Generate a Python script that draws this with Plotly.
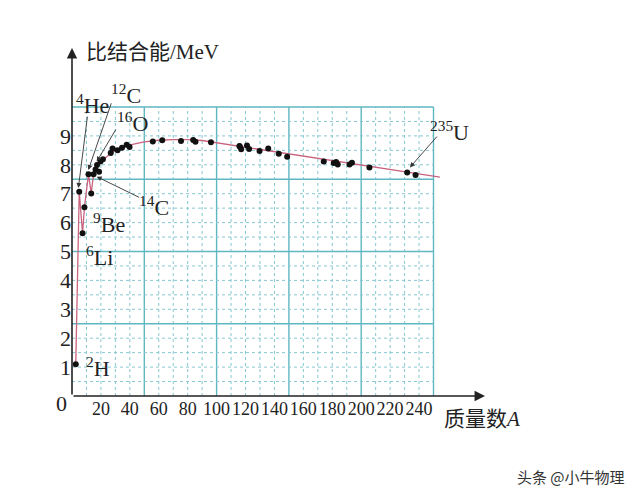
import plotly.graph_objects as go

# ---- data ----
nuclide_A = [2.6, 5.0, 7.3, 8.6, 11.4, 13.3, 14.9, 16.3, 18.7, 17.3, 19.7, 21.4,
             26.8, 28.0, 31.5, 34.6, 37.8, 39.8, 55.9, 62.4, 75.4, 83.8, 85.4, 96.1,
             115.8, 116.0, 117.0, 121.0, 122.5, 129.7, 135.7, 143.0, 148.8,
             174.1, 181.0, 182.6, 183.8, 191.9, 193.6, 205.7, 231.8, 237.6]
nuclide_B = [1.10, 7.07, 5.63, 6.53, 7.67, 7.01, 7.67, 7.84, 7.76, 7.99, 8.11, 8.19,
             8.41, 8.56, 8.50, 8.59, 8.69, 8.62, 8.81, 8.85, 8.82, 8.86, 8.80, 8.78,
             8.65, 8.63, 8.54, 8.67, 8.55, 8.48, 8.56, 8.38, 8.28,
             8.11, 8.06, 8.10, 8.01, 8.01, 8.07, 7.91, 7.73, 7.65]

curve_A = [2.6, 5.0, 7.3, 8.6, 11.4, 13.3, 14.9, 16.0, 20, 27.1, 33, 40.2, 50, 60,
           70, 80, 90, 102.7, 120, 140, 160, 180, 200, 220, 240, 254.4]
curve_B = [1.10, 7.07, 5.63, 6.53, 7.67, 7.01, 7.67, 7.88, 8.12, 8.40, 8.57, 8.69,
           8.79, 8.85, 8.87, 8.87, 8.84, 8.74, 8.61, 8.45, 8.30, 8.14, 7.99, 7.84,
           7.68, 7.57]

x_ticks = [20, 40, 60, 80, 100, 120, 140, 160, 180, 200, 220, 240]
y_ticks = [1, 2, 3, 4, 5, 6, 7, 8, 9]

labels = ["<sup>4</sup>He", "<sup>12</sup>C", "<sup>16</sup>O", "<sup>14</sup>C",
          "<sup>9</sup>Be", "<sup>6</sup>Li", "<sup>2</sup>H", "<sup>235</sup>U"]
label_A = [1.2, 25.4, 29.5, 45.1, 13.3, 8.4, 8.4, 246.3]
label_B = [10.12, 10.44, 9.47, 6.59, 6.0, 4.83, 1.02, 9.17]

arrow_tip_A = [4.4, 11.3, 17.1, 17.1, 233.7]
arrow_tip_B = [7.2, 7.82, 8.11, 7.59, 7.91]
arrow_tail_A = [10.8, 27.5, 30.9, 47.4, 253.3]
arrow_tail_B = [9.72, 10.18, 9.27, 6.85, 9.03]

SERIF = "Liberation Serif, Noto Sans CJK SC"
SOLID = "#5fb7c2"
DASH = "#86c8d0"

# layout geometry (page has an 8px body margin)
L, T, R, B = 64, 30, 482, 388
PW, PH = R - L, B - T


def px_x(px):
    return (px - 8 - L) / PW


def px_y(py):
    return (B - (py - 8)) / PH


fig = go.Figure()

shapes = []
for gx in range(10, 260, 10):
    solid = gx % 50 == 0
    shapes.append(dict(type="line", xref="x", yref="y", x0=gx, x1=gx, y0=0, y1=10,
                       layer="below",
                       line=dict(color=SOLID if solid else DASH,
                                 width=1.4 if solid else 1,
                                 dash="solid" if solid else "3px,3px")))
for k in range(1, 21):
    gy = k * 0.5
    solid = k % 5 == 0
    shapes.append(dict(type="line", xref="x", yref="y", x0=0, x1=250, y0=gy, y1=gy,
                       layer="below",
                       line=dict(color=SOLID if solid else DASH,
                                 width=1.4 if solid else 1,
                                 dash="solid" if solid else "3px,3px")))

fig.add_trace(go.Scatter(x=curve_A, y=curve_B, mode="lines",
                         line=dict(color="#c9637e", width=1.3), hoverinfo="skip"))
fig.add_trace(go.Scatter(x=nuclide_A, y=nuclide_B, mode="markers",
                         marker=dict(color="#111", size=6)))

ann = []
ann.append(dict(x=0, y=12.04, ax=0, ay=0, xref="x", yref="y", axref="x", ayref="y",
                text="", showarrow=True, arrowhead=2, arrowsize=1.3, arrowwidth=1.6,
                arrowcolor="#222", standoff=0))
ann.append(dict(x=285.6, y=0, ax=0, ay=0, xref="x", yref="y", axref="x", ayref="y",
                text="", showarrow=True, arrowhead=2, arrowsize=1.3, arrowwidth=1.6,
                arrowcolor="#222", standoff=0))
for tx, ty, sx, sy in zip(arrow_tip_A, arrow_tip_B, arrow_tail_A, arrow_tail_B):
    ann.append(dict(x=tx, y=ty, ax=sx, ay=sy, xref="x", yref="y", axref="x", ayref="y",
                    text="", showarrow=True, arrowhead=2, arrowsize=1.1,
                    arrowwidth=0.9, arrowcolor="#333", standoff=0))
for t, lx, ly in zip(labels, label_A, label_B):
    ann.append(dict(x=lx, y=ly, xref="x", yref="y", text=t, showarrow=False,
                    xanchor="left", yanchor="middle",
                    font=dict(family=SERIF, size=22, color="#222")))
ann.append(dict(x=px_x(84), y=px_y(51.5), xref="paper", yref="paper",
                text="比结合能/MeV", showarrow=False, xanchor="left", yanchor="middle",
                font=dict(family=SERIF, size=21, color="#222")))
ann.append(dict(x=px_x(442), y=px_y(419), xref="paper", yref="paper",
                text="质量数<i>A</i>", showarrow=False, xanchor="left", yanchor="middle",
                font=dict(family=SERIF, size=21, color="#222")))
ann.append(dict(x=px_x(69), y=px_y(403), xref="paper", yref="paper",
                text="0", showarrow=False, xanchor="right", yanchor="middle",
                font=dict(family=SERIF, size=22, color="#222")))
ann.append(dict(x=px_x(627), y=px_y(476.5), xref="paper", yref="paper",
                text="头条 @小牛物理", showarrow=False, xanchor="right", yanchor="middle",
                font=dict(family="Noto Sans CJK SC", size=15, color="#333")))

fig.update_layout(
    width=640, height=499,
    margin=dict(l=L, r=640 - R, t=T, b=499 - B),
    paper_bgcolor="white", plot_bgcolor="white",
    showlegend=False,
    shapes=shapes,
    annotations=ann,
    xaxis=dict(range=[0, PW / 1.446], tickvals=x_ticks,
               ticktext=[str(v) for v in x_ticks], showgrid=False, zeroline=False,
               showline=False, ticks="", fixedrange=True, automargin=False,
               tickangle=0,
               tickfont=dict(family=SERIF, size=18, color="#222")),
    yaxis=dict(range=[0, PH / 28.9], tickvals=y_ticks,
               ticktext=[str(v) for v in y_ticks], showgrid=False, zeroline=False,
               showline=False, ticks="", fixedrange=True, automargin=False,
               tickfont=dict(family=SERIF, size=22, color="#222")),
)

fig.write_html("out.html")
